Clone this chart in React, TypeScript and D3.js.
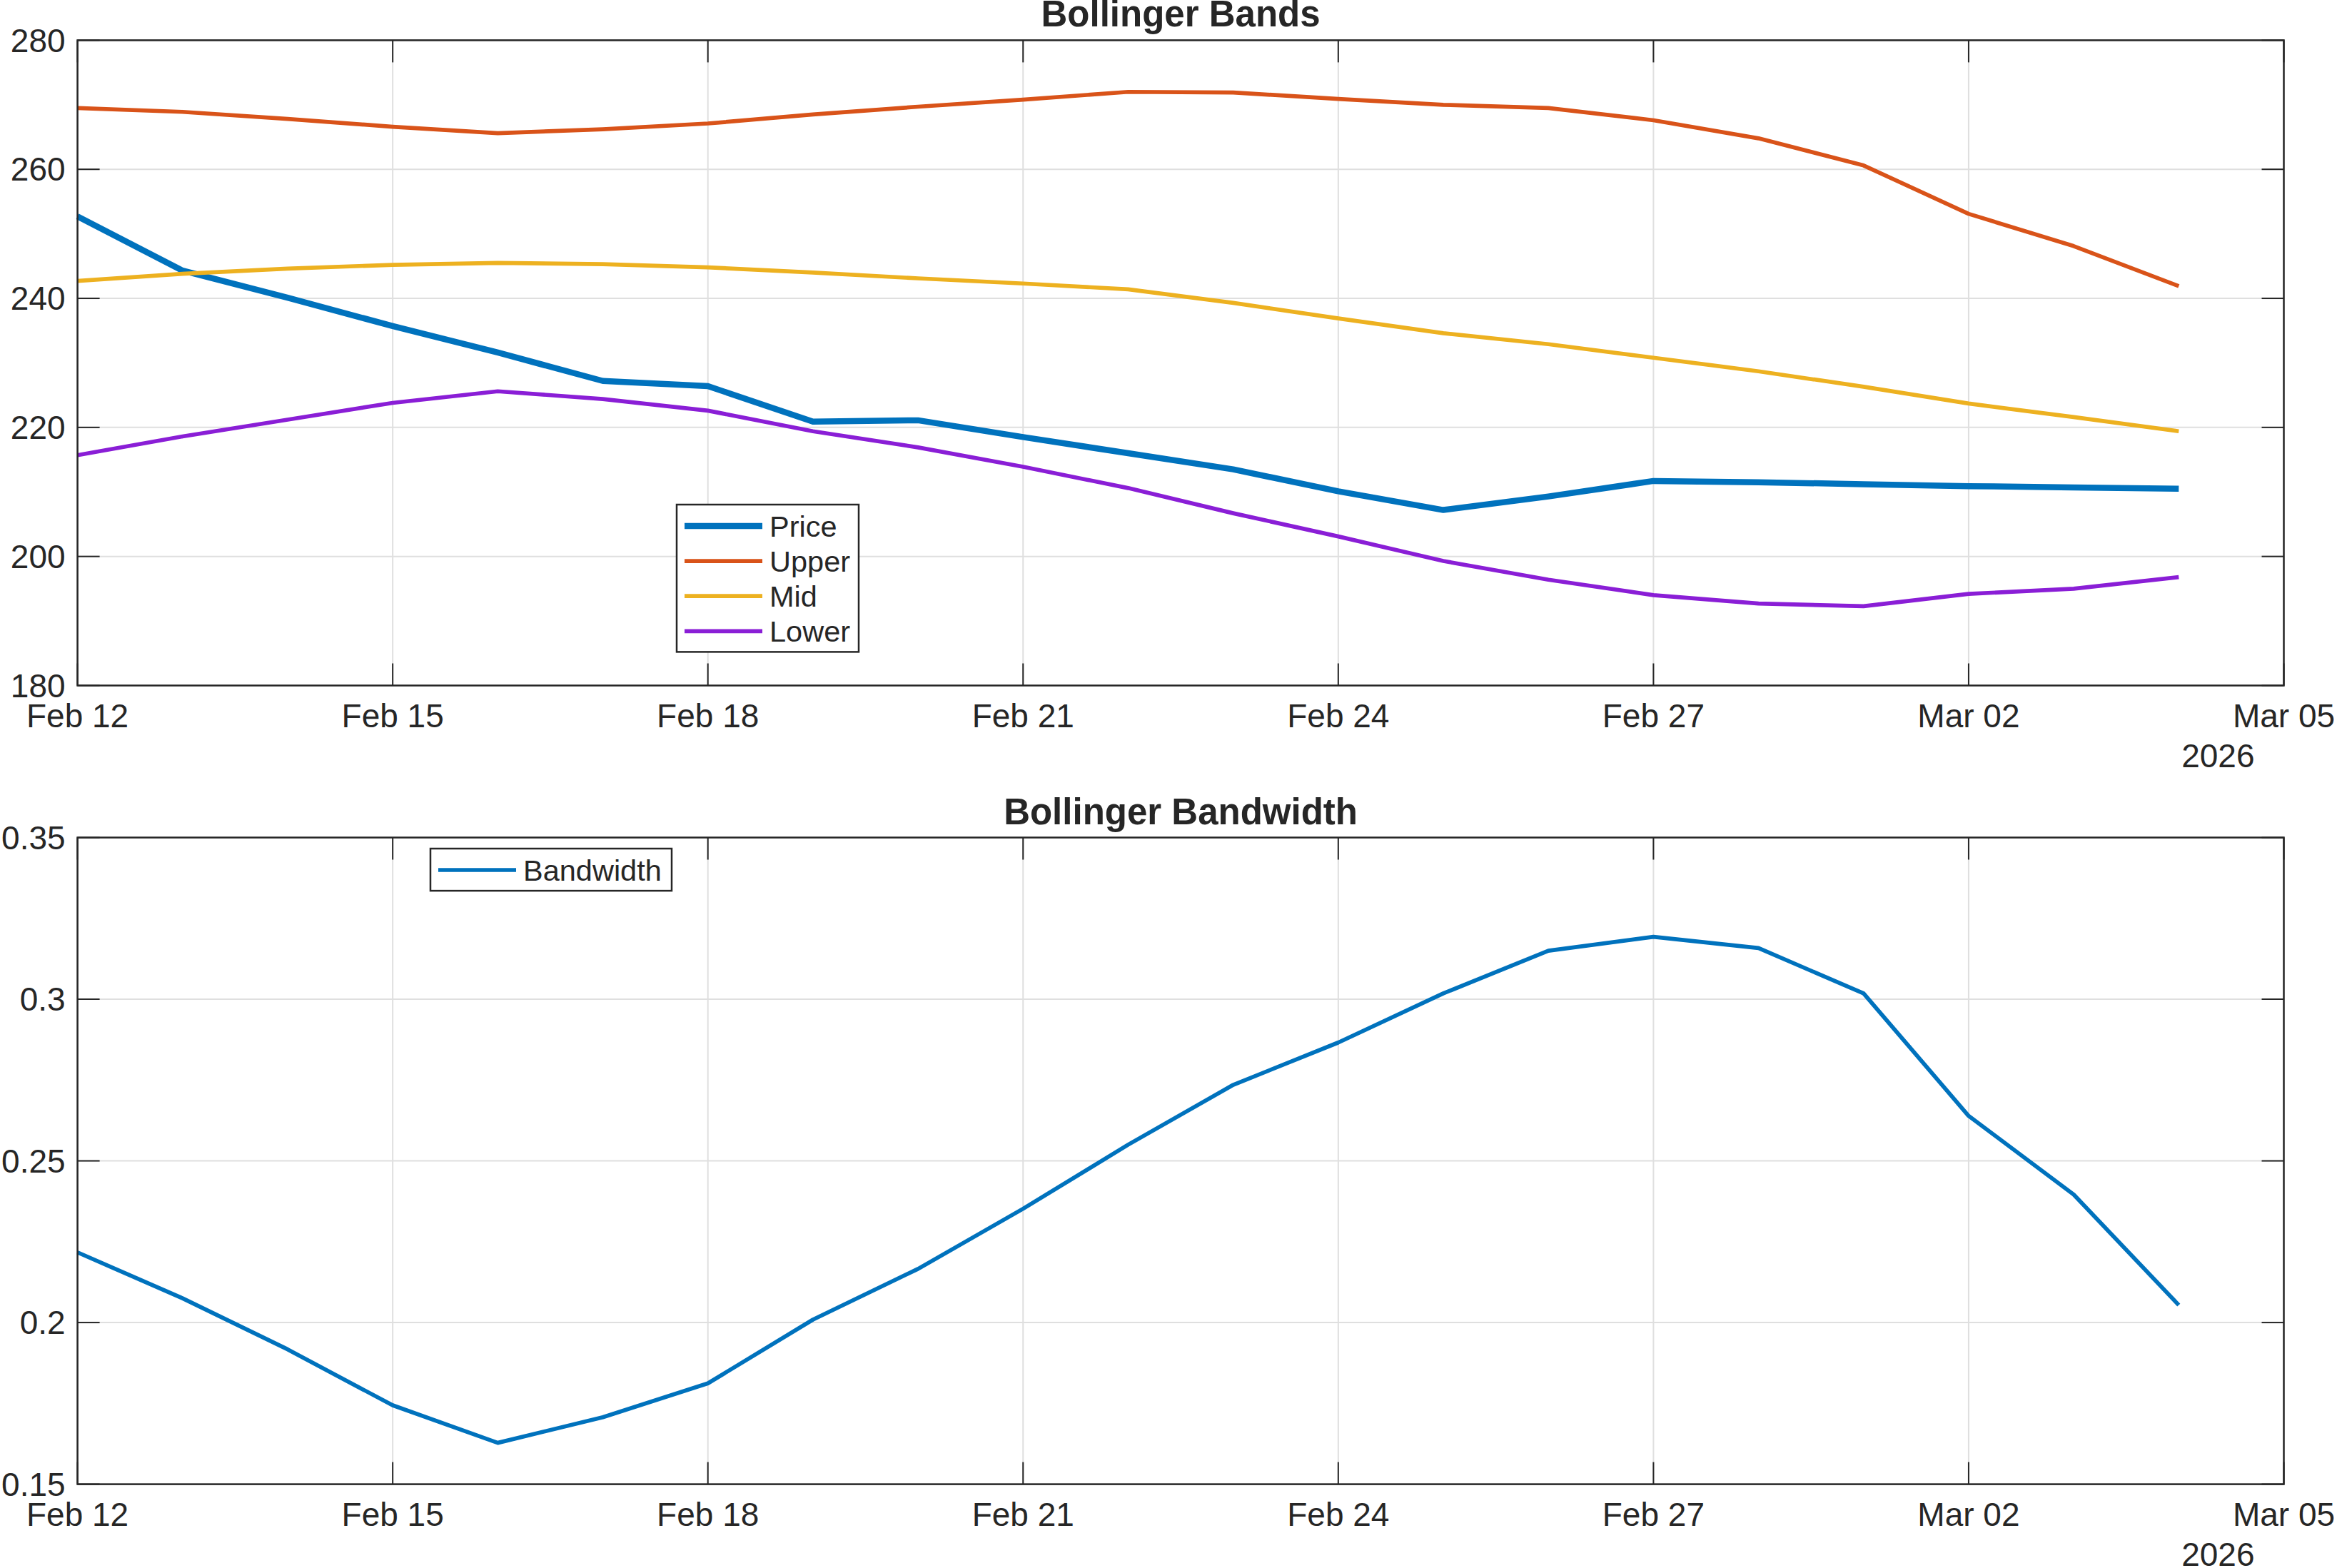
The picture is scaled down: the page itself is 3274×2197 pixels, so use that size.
import * as d3 from 'd3';

const dates = [
    '2026-02-12', '2026-02-13', '2026-02-14', '2026-02-15', '2026-02-16', '2026-02-17', '2026-02-18',
    '2026-02-19', '2026-02-20', '2026-02-21', '2026-02-22', '2026-02-23', '2026-02-24', '2026-02-25',
    '2026-02-26', '2026-02-27', '2026-02-28', '2026-03-01', '2026-03-02', '2026-03-03', '2026-03-04',
];

const price = [252.7, 244.3, 240.1, 235.7, 231.6, 227.2, 226.4, 220.9, 221.1, 218.5, 216.0, 213.5, 210.1, 207.2, 209.3, 211.7, 211.5, 211.2, 210.9, 210.7, 210.5];
const upper = [269.5, 268.9, 267.8, 266.6, 265.6, 266.2, 267.1, 268.5, 269.7, 270.8, 272.0, 271.9, 270.9, 270.0, 269.5, 267.6, 264.8, 260.6, 253.1, 248.1, 241.9];
const mid = [242.7, 243.8, 244.6, 245.2, 245.5, 245.3, 244.8, 244.0, 243.1, 242.3, 241.4, 239.3, 236.9, 234.6, 232.9, 230.8, 228.7, 226.3, 223.7, 221.6, 219.4];
const lower = [215.7, 218.6, 221.2, 223.8, 225.6, 224.4, 222.6, 219.4, 216.9, 213.9, 210.6, 206.7, 203.1, 199.3, 196.4, 194.0, 192.7, 192.3, 194.2, 195.0, 196.8];
const bandwidth = [0.2217, 0.2075, 0.1917, 0.1744, 0.1628, 0.1707, 0.1812, 0.2009, 0.2166, 0.2352, 0.2550, 0.2735, 0.2866, 0.3018, 0.3150, 0.3193, 0.3158, 0.3018, 0.2639, 0.2396, 0.2054];

const xDomain = ['2026-02-12', '2026-03-05'];
const bandTicks = [180, 200, 220, 240, 260, 280];
const widthTicks = [0.15, 0.2, 0.25, 0.3, 0.35];

const W = 3274;
const H = 2197;
const FONT = '"Liberation Sans", Arial, Helvetica, sans-serif';
const TEXT = '#262626';
const GRID = '#dfdfdf';
const TICK_LEN = 31;

const parse = d3.utcParse('%Y-%m-%d');
const fmt = d3.utcFormat('%b %d');
const xDates = dates.map((d) => parse(d) as Date);
const x0 = parse(xDomain[0]) as Date;
const x1 = parse(xDomain[1]) as Date;
const xTicks = d3.range(0, 22, 3).map((k) => d3.utcDay.offset(x0, k));

const left = 108.6;
const right = 3199.5;

const x = d3.scaleTime().domain([x0, x1]).range([left, right]);

type Series = { name: string; values: number[]; color: string; width: number };

const Panel = ({
    top,
    bottom,
    title,
    yDomain,
    yTicks,
    series,
    legend,
}: {
    top: number;
    bottom: number;
    title: string;
    yDomain: [number, number];
    yTicks: number[];
    series: Series[];
    legend: { x: number; y: number; w: number; row: number };
}) => {
    const y = d3.scaleLinear().domain(yDomain).range([bottom, top]);
    const line = (vals: number[]) =>
        d3.line<number>()
            .x((_, i) => x(xDates[i]))
            .y((v) => y(v))(vals) as string;
    const yFmt = (v: number) => String(+v.toFixed(2));
    const legH = legend.row * series.length + 10;

    return (
        <g>
            {/* grid */}
            {xTicks.map((t, i) => (
                <line key={'gx' + i} x1={x(t)} x2={x(t)} y1={top} y2={bottom} stroke={GRID} strokeWidth={2} />
            ))}
            {yTicks.map((t, i) => (
                <line key={'gy' + i} x1={left} x2={right} y1={y(t)} y2={y(t)} stroke={GRID} strokeWidth={2} />
            ))}

            {/* series */}
            {series.map((s) => (
                <path
                    key={s.name}
                    d={line(s.values)}
                    fill="none"
                    stroke={s.color}
                    strokeWidth={s.width}
                    strokeLinejoin="round"
                />
            ))}

            {/* ticks, inside on all sides */}
            {xTicks.map((t, i) => (
                <g key={'tx' + i} stroke={TEXT} strokeWidth={2}>
                    <line x1={x(t)} x2={x(t)} y1={bottom} y2={bottom - TICK_LEN} />
                    <line x1={x(t)} x2={x(t)} y1={top} y2={top + TICK_LEN} />
                </g>
            ))}
            {yTicks.map((t, i) => (
                <g key={'ty' + i} stroke={TEXT} strokeWidth={2}>
                    <line x1={left} x2={left + TICK_LEN} y1={y(t)} y2={y(t)} />
                    <line x1={right} x2={right - TICK_LEN} y1={y(t)} y2={y(t)} />
                </g>
            ))}

            <rect x={left} y={top} width={right - left} height={bottom - top} fill="none" stroke={TEXT} strokeWidth={2.5} />

            {/* tick labels */}
            {xTicks.map((t, i) => (
                <text key={'lx' + i} x={x(t)} y={bottom + 58} textAnchor="middle" fontSize={46} fill={TEXT}>
                    {fmt(t)}
                </text>
            ))}
            <text x={right - 41} y={bottom + 114} textAnchor="end" fontSize={46} fill={TEXT}>
                2026
            </text>
            {yTicks.map((t, i) => (
                <text key={'ly' + i} x={left - 17} y={y(t)} dy="0.35em" textAnchor="end" fontSize={46} fill={TEXT}>
                    {yFmt(t)}
                </text>
            ))}

            <text x={(left + right) / 2} y={top - 19} textAnchor="middle" fontSize={51} fontWeight="bold" fill={TEXT}>
                {title}
            </text>

            {/* legend */}
            <g transform={`translate(${legend.x},${legend.y})`}>
                <rect x={0} y={0} width={legend.w} height={legH} fill="#fff" stroke={TEXT} strokeWidth={2.5} />
                {series.map((s, i) => (
                    <g key={'lg' + s.name} transform={`translate(0,${30 + i * legend.row})`}>
                        <line x1={11} x2={120} y1={0} y2={0} stroke={s.color} strokeWidth={s.width} />
                        <text x={130} y={0} dy="0.35em" fontSize={41.5} fill={TEXT}>
                            {s.name}
                        </text>
                    </g>
                ))}
            </g>
        </g>
    );
};

export default function App() {
    return (
        <svg
            width={W}
            height={H}
            style={{ position: 'absolute', left: 0, top: 0, background: '#fff' }}
            fontFamily={FONT}
        >
            <rect width={W} height={H} fill="#fff" />
            <Panel
                top={56.4}
                bottom={960.5}
                title="Bollinger Bands"
                yDomain={[180, 280]}
                yTicks={bandTicks}
                series={[
                    { name: 'Price', values: price, color: '#0072BD', width: 8.5 },
                    { name: 'Upper', values: upper, color: '#D95319', width: 5.7 },
                    { name: 'Mid', values: mid, color: '#EDB120', width: 5.7 },
                    { name: 'Lower', values: lower, color: '#8A1ED6', width: 5.7 },
                ]}
                legend={{ x: 948, y: 707, w: 255, row: 49.1 }}
            />
            <Panel
                top={1173.5}
                bottom={2079.6}
                title="Bollinger Bandwidth"
                yDomain={[0.15, 0.35]}
                yTicks={widthTicks}
                series={[{ name: 'Bandwidth', values: bandwidth, color: '#0072BD', width: 5.7 }]}
                legend={{ x: 603, y: 1189, w: 338, row: 49.1 }}
            />
        </svg>
    );
}
